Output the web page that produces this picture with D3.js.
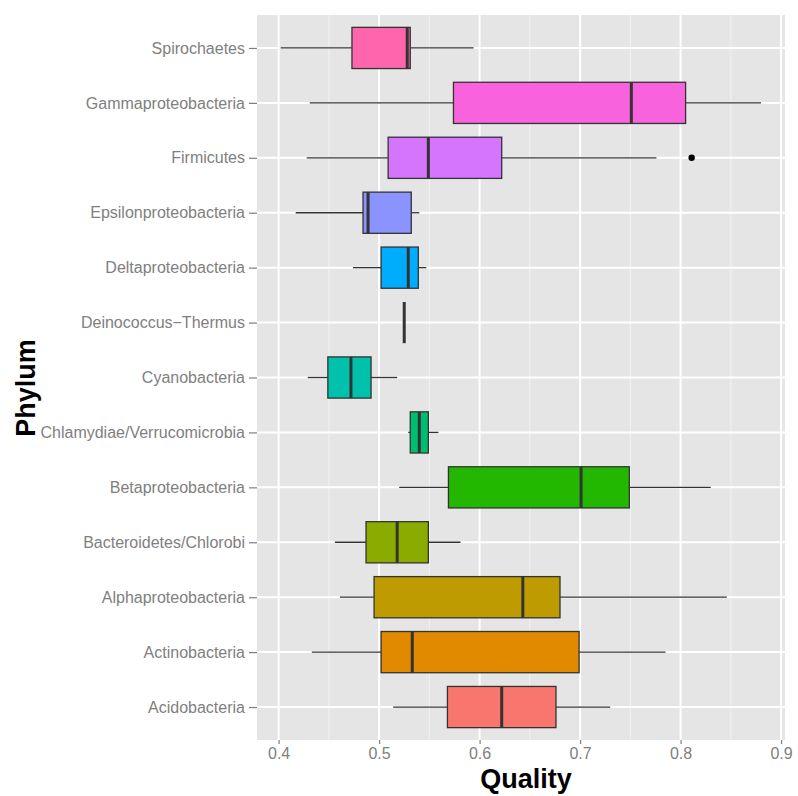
<!DOCTYPE html>
<html>
<head>
<meta charset="utf-8">
<script src="https://cdn.jsdelivr.net/npm/d3@7"></script>
<style>
  html, body { margin: 0; padding: 0; background: #ffffff; }
  svg { display: block; font-family: "Liberation Sans", Arial, Helvetica, sans-serif; }
</style>
</head>
<body>
<svg id="chart" width="798" height="796"></svg>
<script>
// Phylum categories, listed bottom to top as on the axis
const phyla = [
  "Acidobacteria", "Actinobacteria", "Alphaproteobacteria", "Bacteroidetes/Chlorobi",
  "Betaproteobacteria", "Chlamydiae/Verrucomicrobia", "Cyanobacteria", "Deinococcus\u2212Thermus",
  "Deltaproteobacteria", "Epsilonproteobacteria", "Firmicutes", "Gammaproteobacteria", "Spirochaetes"
];
// Five-number summaries of Quality per phylum (same order as phyla)
const whiskerLow  = [0.514, 0.433, 0.461, 0.456, 0.520, 0.529, 0.429, 0.525, 0.474, 0.417, 0.428, 0.431, 0.402];
const boxLow      = [0.568, 0.502, 0.495, 0.487, 0.569, 0.531, 0.449, 0.525, 0.502, 0.484, 0.509, 0.574, 0.473];
const medians     = [0.622, 0.533, 0.643, 0.518, 0.701, 0.540, 0.472, 0.525, 0.529, 0.489, 0.549, 0.751, 0.528];
const boxHigh     = [0.676, 0.699, 0.680, 0.549, 0.749, 0.549, 0.492, 0.525, 0.539, 0.532, 0.622, 0.805, 0.531];
const whiskerHigh = [0.730, 0.785, 0.846, 0.581, 0.830, 0.559, 0.518, 0.525, 0.547, 0.540, 0.776, 0.880, 0.594];
// Outlying points
const outlierPhylum = ["Firmicutes"];
const outlierValue  = [0.811];
// Axis ticks
const xTicks = [0.4, 0.5, 0.6, 0.7, 0.8, 0.9];
const xMinorTicks = [0.45, 0.55, 0.65, 0.75, 0.85];
// Fill colours (default hue palette, one per phylum)
const fills = ["#F8766D", "#E18A00", "#BE9C00", "#8CAB00", "#24B700", "#00BE70", "#00C1AB",
               "#00BBDA", "#00ACFC", "#8B93FF", "#D575FE", "#F962DD", "#FF65AC"];

const rows = phyla.map((p, i) => ({
  phylum: p, lo: whiskerLow[i], q1: boxLow[i], med: medians[i], q3: boxHigh[i], hi: whiskerHigh[i], fill: fills[i]
}));

const svg = d3.select("#chart");
const panel = { left: 257, right: 785, top: 15, bottom: 740 };

const x = d3.scaleLinear().domain([0.3785, 0.9039]).range([panel.left, panel.right]);
const y = d3.scalePoint().domain(phyla).range([panel.bottom, panel.top]).padding(0.6);
const boxH = y.step() * 0.75;

// Panel background
svg.append("rect")
  .attr("x", panel.left).attr("y", panel.top)
  .attr("width", panel.right - panel.left).attr("height", panel.bottom - panel.top)
  .attr("fill", "#E5E5E5");

const grid = svg.append("g");
grid.selectAll("line.minor").data(xMinorTicks).join("line")
  .attr("x1", d => x(d)).attr("x2", d => x(d))
  .attr("y1", panel.top).attr("y2", panel.bottom)
  .attr("stroke", "#F2F2F2").attr("stroke-width", 1);
grid.selectAll("line.majx").data(xTicks).join("line")
  .attr("x1", d => x(d)).attr("x2", d => x(d))
  .attr("y1", panel.top).attr("y2", panel.bottom)
  .attr("stroke", "#FFFFFF").attr("stroke-width", 2);
grid.selectAll("line.majy").data(phyla).join("line")
  .attr("x1", panel.left).attr("x2", panel.right)
  .attr("y1", d => y(d)).attr("y2", d => y(d))
  .attr("stroke", "#FFFFFF").attr("stroke-width", 2);

// Boxplots
const boxes = svg.append("g").selectAll("g").data(rows).join("g");
boxes.append("line")
  .attr("x1", d => x(d.lo)).attr("x2", d => x(d.q1))
  .attr("y1", d => y(d.phylum)).attr("y2", d => y(d.phylum))
  .attr("stroke", "#333333").attr("stroke-width", 1.3);
boxes.append("line")
  .attr("x1", d => x(d.q3)).attr("x2", d => x(d.hi))
  .attr("y1", d => y(d.phylum)).attr("y2", d => y(d.phylum))
  .attr("stroke", "#333333").attr("stroke-width", 1.3);
boxes.append("rect")
  .attr("x", d => x(d.q1)).attr("y", d => y(d.phylum) - boxH / 2)
  .attr("width", d => x(d.q3) - x(d.q1)).attr("height", boxH)
  .attr("fill", d => d.fill).attr("stroke", "#333333").attr("stroke-width", 1.3);
boxes.append("line")
  .attr("x1", d => x(d.med)).attr("x2", d => x(d.med))
  .attr("y1", d => y(d.phylum) - boxH / 2).attr("y2", d => y(d.phylum) + boxH / 2)
  .attr("stroke", "#333333").attr("stroke-width", 3);

svg.append("g").selectAll("circle").data(outlierValue).join("circle")
  .attr("cx", d => x(d)).attr("cy", (d, i) => y(outlierPhylum[i]))
  .attr("r", 3.2).attr("fill", "#000000");

// X axis
const xAxis = svg.append("g").attr("transform", `translate(0,${panel.bottom})`)
  .call(d3.axisBottom(x).tickValues(xTicks).tickFormat(d3.format(".1f")).tickSize(4).tickPadding(4));
xAxis.select(".domain").remove();
xAxis.selectAll(".tick line").attr("stroke", "#7F7F7F").attr("stroke-width", 1.2);
xAxis.selectAll(".tick text").attr("fill", "#808080").attr("font-size", 16)
  .style("font-family", "'Liberation Sans', Arial, sans-serif");

// Y axis
const yAxis = svg.append("g").attr("transform", `translate(${panel.left},0)`)
  .call(d3.axisLeft(y).tickSize(8).tickPadding(4));
yAxis.select(".domain").remove();
yAxis.selectAll(".tick line").attr("stroke", "#7F7F7F").attr("stroke-width", 1.2);
yAxis.selectAll(".tick text").attr("fill", "#808080").attr("font-size", 16)
  .style("font-family", "'Liberation Sans', Arial, sans-serif");

// Axis titles
svg.append("text")
  .attr("x", 526).attr("y", 788)
  .attr("text-anchor", "middle").attr("font-size", 27).attr("font-weight", "bold")
  .attr("fill", "#000000").text("Quality");
svg.append("text")
  .attr("transform", "translate(35,388) rotate(-90)")
  .attr("text-anchor", "middle").attr("font-size", 27).attr("font-weight", "bold")
  .attr("fill", "#000000").text("Phylum");
</script>
</body>
</html>
